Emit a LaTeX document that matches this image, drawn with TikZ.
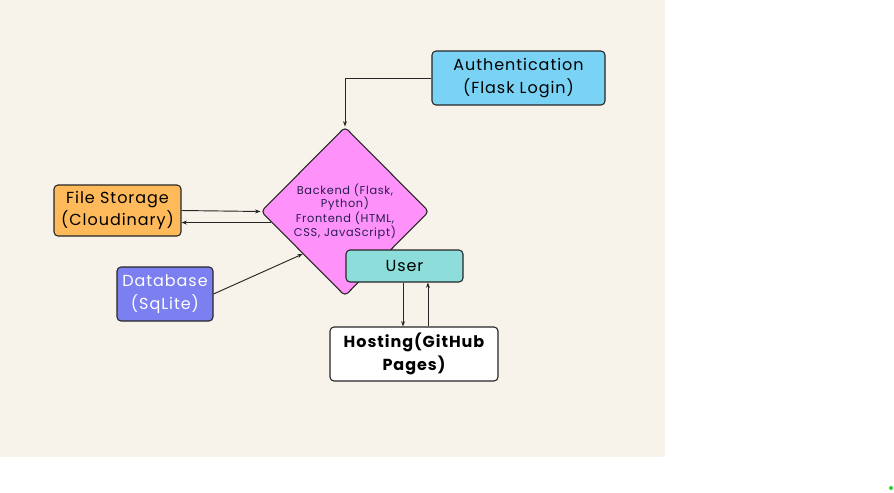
\documentclass[tikz,border=0pt]{standalone}
\usepackage{fontspec}
\setmainfont{Poppins}[LetterSpace=6]
\usepackage{tikz}
\usetikzlibrary{shapes.geometric, arrows.meta, calc}

\definecolor{paper}{RGB}{247,243,235}
\definecolor{authblue}{RGB}{122,211,244}
\definecolor{storeorange}{RGB}{253,185,90}
\definecolor{dbviolet}{RGB}{123,127,240}
\definecolor{userteal}{RGB}{141,221,218}
\definecolor{corepink}{RGB}{255,145,250}
\definecolor{corenavy}{RGB}{40,30,80}
\definecolor{dotgreen}{RGB}{40,210,40}

\begin{document}
\begin{tikzpicture}[x=0.75pt, y=-0.75pt,
  box/.style={draw=black!85, line width=0.8pt, rounded corners=3pt, align=center, inner sep=0pt, font=\fontsize{12}{17}\selectfont},
  link/.style={draw=black!85, line width=0.7pt, -{Stealth[length=4pt, width=3pt]}}]

% canvas
\useasboundingbox (0,0) rectangle (894,493);
\fill[paper] (0,0) rectangle (665,457);
\fill[dotgreen] (891,488) circle (2);

% draw boxes
\node (auth) [box, fill=authblue, minimum width=129.75pt, minimum height=40.5pt] at (518.5,78) {Authentication\\(Flask Login)};
\node (store) [box, fill=storeorange, minimum width=95.25pt, minimum height=38.25pt] at (117.5,210.5) {File Storage\\(Cloudinary)};
\node (db) [box, fill=dbviolet, text=white, minimum width=72pt, minimum height=40.5pt] at (165,294) {Database\\(SqLite)};

% draw diamond
\node (core) [diamond, draw=black!85, line width=0.8pt, rounded corners=3pt, fill=corepink, minimum width=126pt, minimum height=126.75pt, inner sep=0pt, align=center, text=corenavy, font=\fontsize{8.5}{10}\selectfont] at (345,211.5) {Backend (Flask,\\Python)\\Frontend (HTML,\\CSS, JavaScript)};

% user and hosting
\node (user) [box, fill=userteal, minimum width=87.75pt, minimum height=24pt] at (404.5,266) {User};
\node (host) [box, fill=white, font=\bfseries\fontsize{12}{17}\selectfont, minimum width=126pt, minimum height=40.5pt] at (414,354) {Hosting(GitHub\\Pages)};

% connectors
\draw[link] (auth.west) -| (core.north);
\draw[link] (store.east) -- (core.west);
\coordinate (back) at ($(core.west)!0.13!(core.south)$);
\draw[link] (back) -- (store.east |- back);
\draw[link] (db.east) -- (core.south west);
\coordinate (down) at ([xshift=-1.1pt]user.south);
\coordinate (up) at ([xshift=17.6pt]user.south);
\draw[link] (down) -- (down |- host.north);
\draw[link] (up |- host.north) -- (up);

\end{tikzpicture}
\end{document}
